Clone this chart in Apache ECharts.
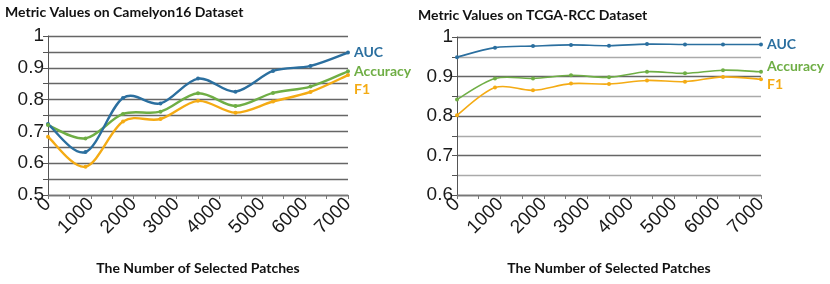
<!DOCTYPE html>
<html><head><meta charset="utf-8">
<script src="https://cdn.jsdelivr.net/npm/echarts@6/dist/echarts.min.js"></script>
<style>html,body{margin:0;padding:0;background:#fff}#c{width:830px;height:284px}</style>
</head><body><div id="c"></div>
<script>
const xValues = [0, 875, 1750, 2625, 3500, 4375, 5250, 6125, 7000];
const seriesNames = ['AUC', 'Accuracy', 'F1'];
const camAUC = [0.723, 0.635, 0.805, 0.788, 0.866, 0.825, 0.890, 0.906, 0.948];
const camAcc = [0.720, 0.678, 0.755, 0.762, 0.820, 0.780, 0.821, 0.841, 0.889];
const camF1  = [0.683, 0.589, 0.731, 0.739, 0.796, 0.759, 0.794, 0.824, 0.877];
const tcgaAUC = [0.949, 0.973, 0.977, 0.980, 0.978, 0.982, 0.981, 0.981, 0.981];
const tcgaAcc = [0.842, 0.895, 0.895, 0.903, 0.898, 0.912, 0.908, 0.916, 0.912];
const tcgaF1  = [0.802, 0.872, 0.865, 0.882, 0.881, 0.890, 0.887, 0.899, 0.893];
const titles = ['Metric Values on Camelyon16 Dataset', 'Metric Values on TCGA-RCC Dataset'];
const xName = 'The Number of Selected Patches';
const colors = ['#2b6f9f', '#6fae45', '#f4ab14'];

const pair = arr => arr.map((v, i) => [xValues[i], v]);
const chart = echarts.init(document.getElementById('c'));
const tickFont = {fontFamily: 'Liberation Sans', fontSize: 19, color: '#1a1a1a'};
const boldFont = {fontFamily: 'Lato', fontWeight: 'bold', color: '#111'};
function yAxis(gi, min) {
  return {
    type: 'value', gridIndex: gi, min: min, max: 1, interval: 0.05,
    axisLine: {show: true, lineStyle: {color: '#555', width: 1}},
    axisTick: {show: true, length: 5, lineStyle: {color: '#555'}},
    axisLabel: Object.assign({margin: 4, formatter: v => {
      const r = Math.round(v * 100);
      if (r % 10 !== 0) return '';
      return r === 100 ? '1' : (r / 100).toFixed(1);
    }}, tickFont),
    splitLine: {show: true, lineStyle: {color: gi === 0 ? ['#666'] : ['#666', '#aaa'], width: 1.3}}
  };
}
function xAxis(gi) {
  return {
    type: 'value', gridIndex: gi, min: 0, max: 7000, interval: 500,
    axisLine: {show: true, lineStyle: {color: '#777', width: 1.3}},
    axisTick: {show: true, length: 4, lineStyle: {color: '#777'}},
    splitLine: {show: false},
    axisLabel: Object.assign({rotate: 45, margin: 6, formatter: v => v % 1000 === 0 ? String(v) : ''}, tickFont),
    name: xName, nameLocation: 'middle', nameGap: 66,
    nameTextStyle: Object.assign({fontSize: 14}, boldFont)
  };
}
// smooth curve (Catmull-Rom as cubic Bezier) drawn through the axis scales
function curve(gi, name, data, ci, width) {
  return {
    type: 'custom', name: name + '-curve', xAxisIndex: gi, yAxisIndex: gi,
    data: pair(data), silent: true, z: 2 - ci * 0.1,
    renderItem: (params, api) => {
      const i = params.dataIndex;
      if (i >= data.length - 1) return null;
      const P = j => api.coord([xValues[Math.max(0, Math.min(data.length - 1, j))], data[Math.max(0, Math.min(data.length - 1, j))]]);
      const p0 = P(i - 1), p1 = P(i), p2 = P(i + 1), p3 = P(i + 2);
      const t = 1 / 6;
      return {
        type: 'bezierCurve',
        shape: {x1: p1[0], y1: p1[1], x2: p2[0], y2: p2[1],
          cpx1: p1[0] + (p2[0] - p0[0]) * t, cpy1: p1[1] + (p2[1] - p0[1]) * t,
          cpx2: p2[0] - (p3[0] - p1[0]) * t, cpy2: p2[1] - (p3[1] - p1[1]) * t},
        style: {stroke: colors[ci], lineWidth: width, fill: null}
      };
    }
  };
}
function points(gi, name, data, ci, offY) {
  return {
    type: 'line', name: name, xAxisIndex: gi, yAxisIndex: gi, data: pair(data),
    symbol: 'circle', symbolSize: 4,
    lineStyle: {opacity: 0}, itemStyle: {color: colors[ci]},
    endLabel: Object.assign({show: true, formatter: '{a}', color: colors[ci],
      fontSize: 14, distance: 6, offset: [0, offY]}, boldFont, {color: colors[ci]}),
    z: 4
  };
}
chart.setOption({
  animation: false,
  title: [
    {text: titles[0], left: 5, top: 5, padding: 0, textStyle: Object.assign({fontSize: 14}, boldFont)},
    {text: titles[1], left: 418, top: 8, padding: 0, textStyle: Object.assign({fontSize: 14}, boldFont)}
  ],
  grid: [
    {left: 48, right: 482, top: 36, bottom: 89},
    {left: 457, right: 69, top: 37, bottom: 89}
  ],
  xAxis: [xAxis(0), xAxis(1)],
  yAxis: [yAxis(0, 0.5), yAxis(1, 0.6)],
  series: [
    curve(0, seriesNames[2], camF1, 2, 2.4),
    curve(0, seriesNames[1], camAcc, 1, 2.4),
    curve(0, seriesNames[0], camAUC, 0, 2.4),
    curve(1, seriesNames[2], tcgaF1, 2, 1.6),
    curve(1, seriesNames[1], tcgaAcc, 1, 1.6),
    curve(1, seriesNames[0], tcgaAUC, 0, 1.6),
    points(0, seriesNames[0], camAUC, 0, 0),
    points(0, seriesNames[1], camAcc, 1, 0),
    points(0, seriesNames[2], camF1, 2, 14),
    points(1, seriesNames[0], tcgaAUC, 0, 0),
    points(1, seriesNames[1], tcgaAcc, 1, -5),
    points(1, seriesNames[2], tcgaF1, 2, 5)
  ]
});
</script></body></html>
